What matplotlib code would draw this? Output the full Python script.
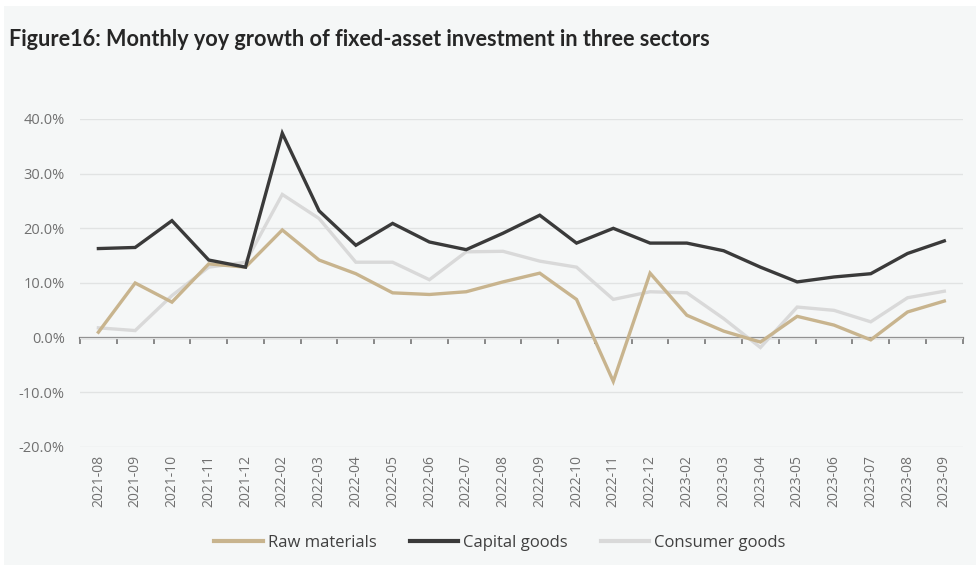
import matplotlib
matplotlib.use("Agg")
import matplotlib.pyplot as plt
from matplotlib.patches import Rectangle
from matplotlib.ticker import FuncFormatter, FixedLocator
from matplotlib import font_manager

# Months on the x axis
months = [
    "2021-08", "2021-09", "2021-10", "2021-11", "2021-12",
    "2022-02", "2022-03", "2022-04", "2022-05", "2022-06", "2022-07",
    "2022-08", "2022-09", "2022-10", "2022-11", "2022-12",
    "2023-02", "2023-03", "2023-04", "2023-05", "2023-06", "2023-07",
    "2023-08", "2023-09",
]

# yoy growth, %
raw_materials = [1.0, 10.0, 6.5, 13.5, 12.9, 19.7, 14.2, 11.7, 8.2, 7.9, 8.4,
                 10.2, 11.8, 7.0, -8.0, 11.8, 4.1, 1.2, -0.8, 3.9, 2.3, -0.4,
                 4.7, 6.7]
capital_goods = [16.3, 16.5, 21.4, 14.2, 12.9, 37.4, 23.2, 16.9, 20.9, 17.5, 16.1,
                 19.1, 22.4, 17.3, 20.0, 17.3, 17.3, 15.9, 12.9, 10.2, 11.1, 11.7,
                 15.4, 17.7]
consumer_goods = [1.8, 1.3, 7.7, 12.9, 13.8, 26.2, 21.8, 13.8, 13.8, 10.6, 15.7,
                  15.8, 14.0, 12.9, 7.0, 8.4, 8.2, 3.5, -1.8, 5.6, 5.0, 2.9,
                  7.3, 8.5]

series_names = ["Raw materials", "Capital goods", "Consumer goods"]
series_colors = ["#c8b48e", "#3a3a3a", "#d9d9d9"]

installed = {f.name for f in font_manager.fontManager.ttflist}
title_font = "Liberation Sans Narrow" if "Liberation Sans Narrow" in installed else "Lato"
body_font = "Open Sans"

bg = "#f5f7f7"
fig = plt.figure(figsize=(9.76, 5.68), dpi=100, facecolor="white")
fig.patches.append(Rectangle((4 / 976, 3 / 568), 972 / 976, 559 / 568,
                             transform=fig.transFigure, facecolor=bg,
                             edgecolor="none", zorder=-10))

ax = fig.add_axes([80 / 976, 1 - 447 / 568, 882.7 / 976, 328 / 568])
ax.set_facecolor(bg)
ax.patch.set_alpha(0)

x = list(range(len(months)))
for vals, name, col in zip([raw_materials, capital_goods, consumer_goods],
                           series_names, series_colors):
    ax.plot(x, vals, color=col, lw=2.4, label=name, solid_joinstyle="miter",
            zorder=3 if name != "Consumer goods" else 2)

ax.set_xlim(-0.5, len(months) - 0.5)
ax.set_ylim(-20, 40)
ax.set_yticks([-20, -10, 0, 10, 20, 30, 40])
ax.yaxis.set_major_formatter(FuncFormatter(lambda v, p: f"{v:.1f}%"))
ax.grid(axis="y", color="#e1e3e3", lw=1.0)
ax.set_axisbelow(True)
for s in ax.spines.values():
    s.set_visible(False)

ax.set_xticks(x)
ax.set_xticklabels(months, rotation=90, fontfamily=body_font, fontsize=10,
                   color="#707070")
ax.tick_params(axis="x", length=0, pad=6)
ax.tick_params(axis="y", length=0, pad=11, labelcolor="#707070", labelsize=10.5)
for lbl in ax.get_yticklabels():
    lbl.set_fontfamily(body_font)

# zero line with category boundary ticks
zero_ax = ax.secondary_xaxis(0, transform=ax.transData)
zero_ax.spines["bottom"].set_color("#7f7f7f")
zero_ax.spines["bottom"].set_linewidth(1.6)
zero_ax.xaxis.set_major_locator(FixedLocator([i - 0.5 for i in range(len(months) + 1)]))
zero_ax.tick_params(axis="x", direction="out", length=4, width=1.3,
                    color="#7f7f7f", labelbottom=False)

leg = fig.legend(loc="center", bbox_to_anchor=(500 / 976, 1 - 543 / 568), ncol=3,
                 frameon=False, handlelength=2.9, handletextpad=0.3,
                 columnspacing=2.0,
                 prop={"family": body_font, "size": 12})
for h in leg.legend_handles:
    h.set_linewidth(3)
for t in leg.get_texts():
    t.set_color("#404040")

fig.text(9 / 976, 1 - 40 / 568,
         "Figure16: Monthly yoy growth of fixed-asset investment in three sectors",
         fontfamily=title_font, fontweight="bold", fontsize=15.6, color="#262626",
         va="center", ha="left")

fig.savefig("out.png", dpi=100, facecolor="white")
